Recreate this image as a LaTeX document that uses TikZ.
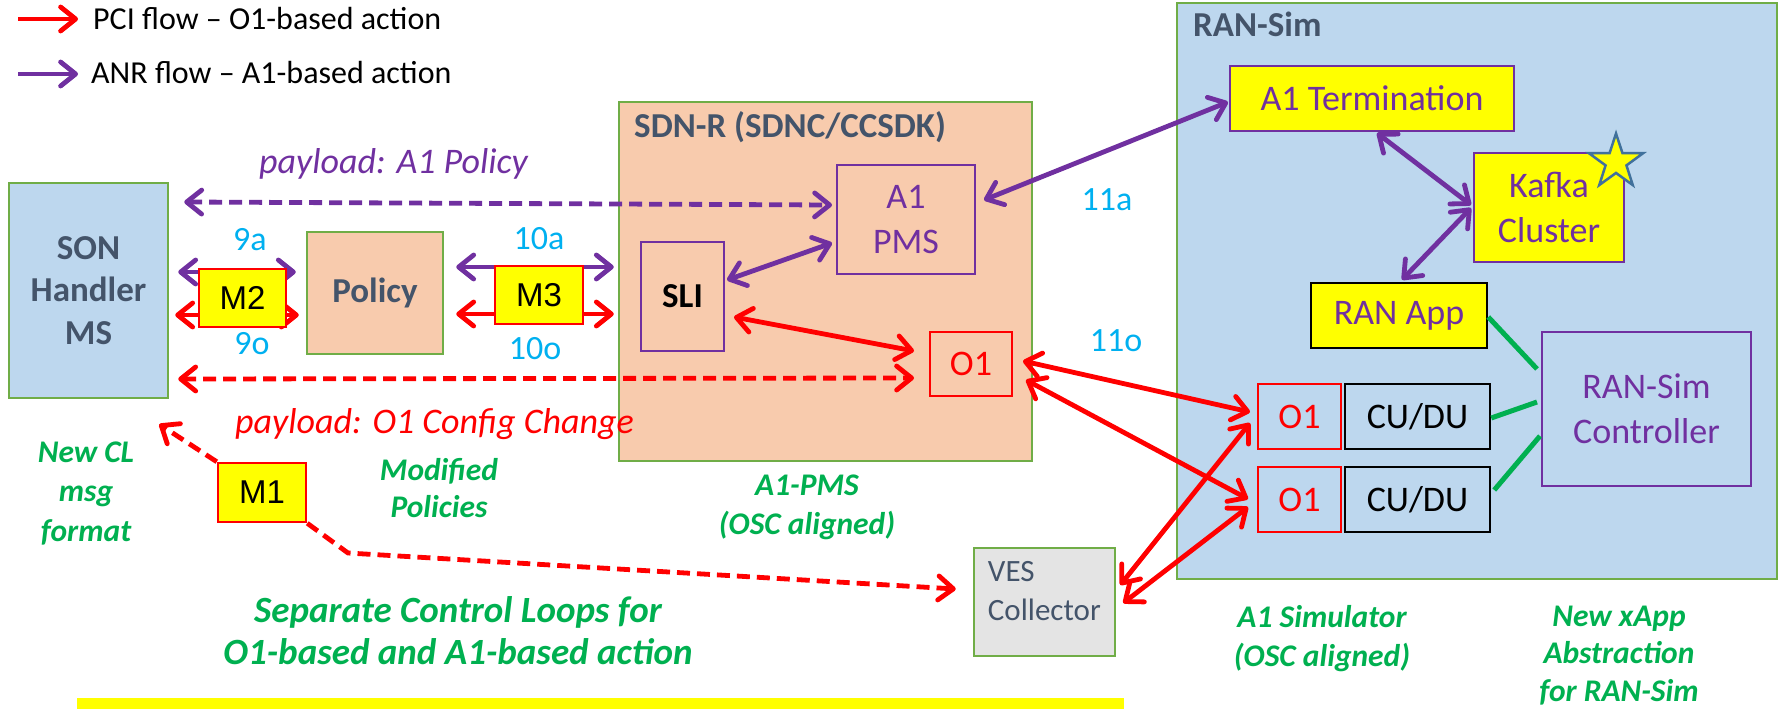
\documentclass[tikz,border=0pt]{standalone}
\usepackage{fontspec}
\setmainfont{Carlito}
\newfontfamily\arialf{Liberation Sans}
\usetikzlibrary{arrows.meta,shapes.geometric,calc}

\definecolor{cred}{HTML}{FF0000}
\definecolor{cpur}{HTML}{7030A0}
\definecolor{cgrnb}{HTML}{70AD47}
\definecolor{cblue}{HTML}{BDD7EE}
\definecolor{cpeach}{HTML}{F8CBAD}
\definecolor{cslate}{HTML}{44546A}
\definecolor{ccyan}{HTML}{00B0F0}
\definecolor{cgtxt}{HTML}{00B050}
\definecolor{cyel}{HTML}{FFFF00}
\definecolor{cgray}{HTML}{E4E4E4}
\definecolor{cstar}{HTML}{41719C}

\newcommand\fsz[2]{\fontsize{#1}{#2}\selectfont}

\begin{document}
\begin{tikzpicture}[x=1pt,y=-1pt,
  >={Straight Barb[length=15pt,width=24pt,round]},
  box/.style={rectangle, inner sep=0pt, align=center, font=\fsz{36}{45}},
  grnbox/.style={box, draw=cgrnb, line width=2.5pt},
  purbox/.style={box, draw=cpur, line width=2pt, text=cpur},
  redbox/.style={box, draw=cred, line width=2pt, text=cred},
  mbox/.style={box, fill=cyel, draw=cred, line width=2.5pt, font=\arialf\fsz{33}{36}},
  lbl/.style={inner sep=0pt},
  num/.style={lbl, anchor=base, text=ccyan, font=\fsz{34}{40}},
  gtxt/.style={lbl, align=center, text=cgtxt},
  flow/.style={line width=4.8pt, <->},
  redflow/.style={flow, draw=cred},
  purflow/.style={flow, draw=cpur},
  dashy/.style={dash pattern=on 13pt off 7pt},
  gline/.style={draw=cgtxt, line width=5pt}
]
\useasboundingbox (0,0) rectangle (1780,709);

% legend
\coordinate (l1a) at (18,19);
\coordinate (l1b) at (78,19);
\coordinate (l2a) at (18,74);
\coordinate (l2b) at (78,74);
\draw[redflow,->] (l1a) -- (l1b);
\draw[purflow,->] (l2a) -- (l2b);
\node[lbl, anchor=base west, font=\fsz{32}{38}] (lg1) at (93,30) {PCI flow – O1-based action};
\node[lbl, anchor=base west, font=\fsz{32}{38}] (lg2) at (91,83) {ANR flow – A1-based action};

% large containers
\node[grnbox, fill=cpeach, minimum width=413pt, minimum height=359pt] (sdnr) at (825.5,281.5) {};
\node[grnbox, fill=cblue, minimum width=600pt, minimum height=576pt] (ransim) at (1477,291) {};
\node[lbl, anchor=base west, text=cslate, font=\fsz{35}{40}\bfseries] (sdnrt) at (634,137) {SDN-R (SDNC/CCSDK)};
\node[lbl, anchor=base west, text=cslate, font=\fsz{35}{40}\bfseries] (ransimt) at (1193,37) {RAN-Sim};

% left side
\node[grnbox, fill=cblue, text=cslate, font=\fsz{35}{42.5}\bfseries, minimum width=159pt, minimum height=215pt] (son) at (88.5,290.5) {SON\\Handler\\MS};
\node[grnbox, fill=cpeach, text=cslate, font=\fsz{35}{42}\bfseries, minimum width=136pt, minimum height=122pt] (policy) at (375,293) {Policy};

% SDN-R contents
\node[purbox, minimum width=138pt, minimum height=109pt] (a1pms) at (906,219.5) {A1\\PMS};
\node[purbox, text=black, font=\fsz{35}{42}\bfseries, minimum width=83pt, minimum height=109pt] (sli) at (682.5,296.5) {SLI};
\node[redbox, minimum width=82pt, minimum height=64pt] (o1s) at (971,364) {O1};

% RAN-Sim contents
\node[purbox, fill=cyel, minimum width=284pt, minimum height=65pt] (a1t) at (1372,98.5) {A1 Termination};
\node[purbox, fill=cyel, minimum width=150pt, minimum height=109pt] (kafka) at (1549,207.5) {Kafka\\Cluster};
\node[star, star points=5, star point ratio=2.6, minimum size=57pt, inner sep=0pt, fill=cyel, draw=cstar, line width=2.5pt] (kstar) at (1616,162) {};
\node[box, fill=cyel, draw=black, line width=2.5pt, text=cpur, minimum width=176pt, minimum height=65pt] (ranapp) at (1399,315.5) {RAN App};
\node[purbox, minimum width=209pt, minimum height=154pt] (ctrl) at (1646.5,409) {RAN-Sim\\Controller};
\node[redbox, minimum width=83pt, minimum height=65pt] (o1a) at (1299.5,416.5) {O1};
\node[box, draw=black, line width=2.5pt, minimum width=145pt, minimum height=65pt] (cua) at (1417.5,416.5) {CU/DU};
\node[redbox, minimum width=83pt, minimum height=65pt] (o1b) at (1299.5,499.5) {O1};
\node[box, draw=black, line width=2.5pt, minimum width=145pt, minimum height=65pt] (cub) at (1417.5,499.5) {CU/DU};

% VES collector
\node[grnbox, fill=cgray, minimum width=141pt, minimum height=108pt] (ves) at (1044.5,602) {};
\node[lbl, anchor=north west, align=left, text=cslate, font=\fsz{31}{39}] (vest) at ([xshift=15pt,yshift=-14pt]ves.north west) {VES\\Collector};

% controller links
\draw[gline] ([yshift=-1.5pt]ranapp.east) -- ([xshift=-4pt,yshift=40pt]ctrl.west);
\draw[gline] ([yshift=-1.5pt]cua.east) -- ([xshift=-4pt,yshift=7pt]ctrl.west);
\draw[gline] ([xshift=3pt,yshift=9.5pt]cub.east) -- ([xshift=-1pt,yshift=-27pt]ctrl.west);

% payload paths
\draw[purflow, dashy] ([xshift=15pt,yshift=88.5pt]son.east) -- ([xshift=-4pt,yshift=14.5pt]a1pms.west);
\draw[redflow, dashy] ([xshift=9pt,yshift=-88.5pt]son.east) -- ([xshift=-15pt,yshift=-14pt]o1s.west);
\node[lbl, anchor=base west, text=cpur, font=\fsz{36}{40}\itshape] (pla1) at (259,173) {payload: A1 Policy};
\node[lbl, anchor=base west, text=cred, font=\fsz{36}{40}\itshape] (plo1) at (235,433) {payload: O1 Config Change};

% SON - Policy - SDN-R
\draw[purflow] ([xshift=9pt,yshift=18.5pt]son.east) -- ([xshift=-10pt,yshift=21pt]policy.west);
\draw[redflow] ([xshift=6pt,yshift=-24.5pt]son.east) -- ([xshift=-7pt,yshift=-22pt]policy.west);
\draw[purflow] ([xshift=12pt,yshift=26pt]policy.east) -- ([xshift=-4pt,yshift=14.5pt]sdnr.west);
\draw[redflow] ([xshift=12pt,yshift=-21pt]policy.east) -- ([xshift=-4pt,yshift=-32.5pt]sdnr.west);
\node[mbox, minimum width=87pt, minimum height=58pt] (m2) at (242.5,298) {M2};
\node[mbox, minimum width=88pt, minimum height=58pt] (m3) at (539,295) {M3};
\node[num] (n9a) at (250,250) {9a};
\node[num] (n9o) at (252,354) {9o};
\node[num] (n10a) at (539,249) {10a};
\node[num] (n10o) at (535,359) {10o};
\node[num] (n11a) at (1107,210) {11a};
\node[num] (n11o) at (1116,351) {11o};

% inside SDN-R
\draw[purflow] ([xshift=2pt,yshift=16.5pt]sli.east) -- ([xshift=-4pt,yshift=-23.5pt]a1pms.west);
\draw[redflow] ([xshift=9pt,yshift=-20.5pt]sli.east) -- ([xshift=-15pt,yshift=13pt]o1s.west);

% A1 path
\draw[purflow] ([xshift=8pt,yshift=19.5pt]a1pms.east) -- ([xshift=-1pt,yshift=-3.5pt]a1t.west);
\draw[purflow] ([xshift=5pt,yshift=-1pt]a1t.south) -- ([xshift=-2pt,yshift=2.5pt]kafka.west);
\draw[purflow] ([xshift=-2pt,yshift=-0.5pt]kafka.west) -- ([xshift=3pt,yshift=2pt]ranapp.north);

% O1 path
\draw[redflow] ([xshift=10pt,yshift=3pt]o1s.east) -- ([xshift=-7pt,yshift=4.5pt]o1a.west);
\draw[redflow] ([xshift=13pt,yshift=-16pt]o1s.east) -- ([xshift=-9pt,yshift=0.5pt]o1b.west);
\draw[redflow] ([xshift=4pt,yshift=17pt]ves.east) -- ([xshift=-7pt,yshift=-6.5pt]o1a.west);
\draw[redflow] ([xshift=7pt,yshift=-1pt]ves.east) -- ([xshift=-9pt,yshift=-7.5pt]o1b.west);

% M1 and its links
\node[mbox, minimum width=88pt, minimum height=59pt] (m1) at (262,492.5) {M1};
\coordinate (m1bend) at (348,553);
\draw[redflow, dashy, ->] (m1.north west) -- ([xshift=-10pt,yshift=-25pt]son.south east);
\draw[redflow, dashy, ->] (m1.south east) -- (m1bend) -- ([xshift=-17pt,yshift=13pt]ves.west);

% annotations
\node[gtxt, font=\fsz{31.5}{39.5}\bfseries\itshape] (gnew) at (86,493) {New CL\\msg\\format};
\node[gtxt, font=\fsz{31.5}{37}\bfseries\itshape] (gmod) at (439,488.5) {Modified\\Policies};
\node[gtxt, font=\fsz{31.5}{39}\bfseries\itshape] (gpms) at (807,507.5) {A1-PMS\\(OSC aligned)};
\node[gtxt, font=\fsz{37}{42}\bfseries\itshape] (gsep) at (458,631) {Separate Control Loops for\\O1-based and A1-based action};
\node[gtxt, font=\fsz{31.5}{39}\bfseries\itshape] (gsim) at (1322,638.5) {A1 Simulator\\(OSC aligned)};
\node[gtxt, font=\fsz{31.5}{37.5}\bfseries\itshape] (gxapp) at (1619,655.5) {New xApp\\Abstraction\\for RAN-Sim};

% highlight bar
\node[rectangle, inner sep=0pt, fill=cyel, minimum width=1047pt, minimum height=11pt] (bar) at (600.5,703.5) {};
\end{tikzpicture}
\end{document}
